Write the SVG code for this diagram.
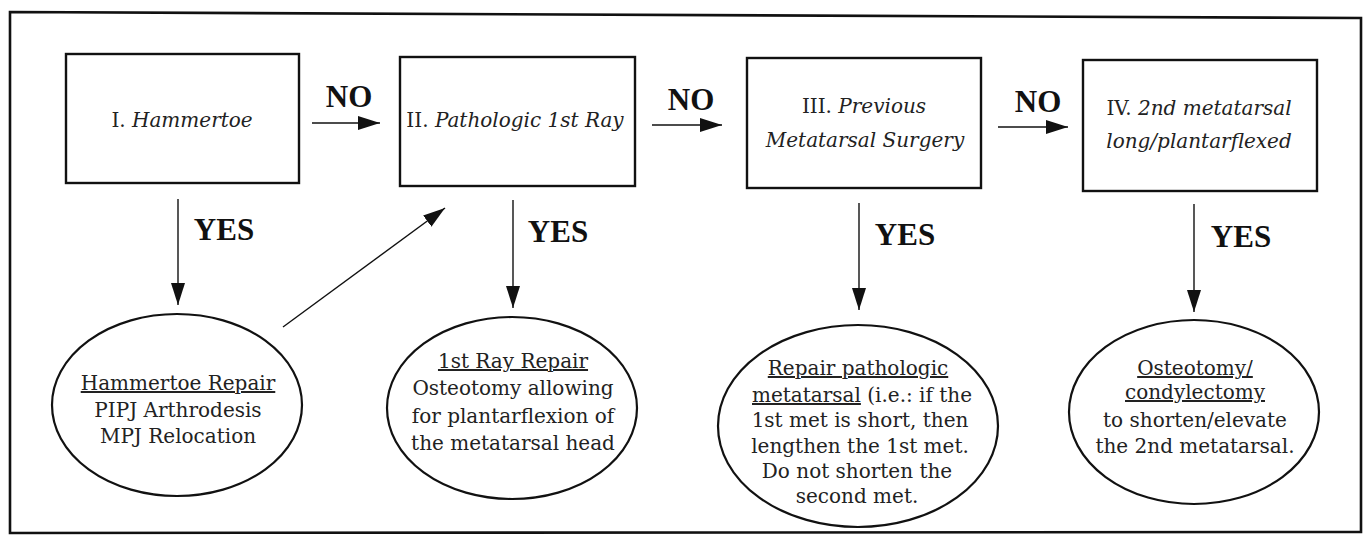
<svg xmlns="http://www.w3.org/2000/svg" width="1364" height="535" viewBox="0 0 1364 535">
<style>
.box{fill:#fff;stroke:#111;stroke-width:2.4}
.ell{fill:#fff;stroke:#111;stroke-width:2.2}
.frame{fill:#fff;stroke:#111;stroke-width:2.6}
.con{stroke:#111;stroke-width:1.4;fill:none;marker-end:url(#ah)}
.t{font-family:"DejaVu Serif","Liberation Serif",serif;font-size:20px;fill:#222;text-anchor:middle}
.bt{font-family:"Liberation Serif","DejaVu Serif",serif;font-size:20px;fill:#333;text-anchor:middle}
.lab{font-family:"Liberation Serif",serif;font-weight:bold;font-size:31px;fill:#111;text-anchor:middle}
.i{font-style:italic}
.u{text-decoration:underline}
</style>
<defs>
<marker id="ah" viewBox="0 0 22 14" refX="22" refY="7" markerWidth="22" markerHeight="14" markerUnits="userSpaceOnUse" orient="auto">
<path d="M0,0 L22,7 L0,14 z" fill="#111"/>
</marker>
</defs>
<path class="frame" d="M10,12 L1361,18 L1361,532 L10,533 Z"/>

<g id="connectors">
<line class="con" x1="312" y1="123" x2="380" y2="123"/>
<line class="con" x1="652" y1="125" x2="722" y2="125"/>
<line class="con" x1="998" y1="127" x2="1068" y2="127"/>
<line class="con" x1="178" y1="199" x2="178" y2="305"/>
<line class="con" x1="513" y1="200" x2="513" y2="308"/>
<line class="con" x1="859" y1="203" x2="859" y2="310"/>
<line class="con" x1="1194" y1="204" x2="1194" y2="312"/>
<line class="con" x1="283" y1="327" x2="445" y2="208"/>
<text class="lab" x="349" y="107">NO</text>
<text class="lab" x="691" y="110">NO</text>
<text class="lab" x="1038" y="112">NO</text>
<text class="lab" x="224" y="240">YES</text>
<text class="lab" x="558" y="242">YES</text>
<text class="lab" x="905" y="245">YES</text>
<text class="lab" x="1241" y="247">YES</text>
</g>

<g id="n1">
<rect class="box" x="66" y="54" width="233" height="129"/>
<text class="t" x="182" y="127">I. <tspan class="i">Hammertoe</tspan></text>
</g>
<g id="n2">
<rect class="box" x="400" y="57" width="235" height="129"/>
<text class="t" x="515" y="127">II. <tspan class="i">Pathologic 1st Ray</tspan></text>
</g>
<g id="n3">
<rect class="box" x="747" y="58" width="234" height="130"/>
<text class="t" x="864" y="113">III. <tspan class="i">Previous</tspan></text>
<text class="t i" x="865" y="147">Metatarsal Surgery</text>
</g>
<g id="n4">
<rect class="box" x="1083" y="60" width="234" height="131"/>
<text class="t" x="1199" y="115">IV. <tspan class="i">2nd metatarsal</tspan></text>
<text class="t i" x="1199" y="148">long/plantarflexed</text>
</g>

<g id="r1">
<ellipse class="ell" cx="177" cy="405" rx="125" ry="91"/>
<text class="t" x="178" y="390"><tspan class="u">Hammertoe Repair</tspan></text>
<text class="t" x="178" y="417">PIPJ Arthrodesis</text>
<text class="t" x="178" y="443">MPJ Relocation</text>
</g>
<g id="r2">
<ellipse class="ell" cx="512" cy="408" rx="125" ry="91"/>
<text class="t" x="513" y="368"><tspan class="u">1st Ray Repair</tspan></text>
<text class="t" x="513" y="395">Osteotomy allowing</text>
<text class="t" x="513" y="423">for plantarflexion of</text>
<text class="t" x="513" y="450">the metatarsal head</text>
</g>
<g id="r3">
<ellipse class="ell" cx="858" cy="426" rx="140" ry="101"/>
<text class="t" x="858" y="375"><tspan class="u">Repair pathologic</tspan></text>
<text class="t" x="862" y="402"><tspan class="u">metatarsal</tspan> (i.e.: if the</text>
<text class="t" x="860" y="427">1st met is short, then</text>
<text class="t" x="860" y="453">lengthen the 1st met.</text>
<text class="t" x="857" y="478">Do not shorten the</text>
<text class="t" x="857" y="503">second met.</text>
</g>
<g id="r4">
<ellipse class="ell" cx="1194" cy="412" rx="125" ry="92"/>
<text class="t" x="1195" y="375"><tspan class="u">Osteotomy/</tspan></text>
<text class="t" x="1195" y="399"><tspan class="u">condylectomy</tspan></text>
<text class="t" x="1195" y="427">to shorten/elevate</text>
<text class="t" x="1195" y="453">the 2nd metatarsal.</text>
</g>
</svg>
